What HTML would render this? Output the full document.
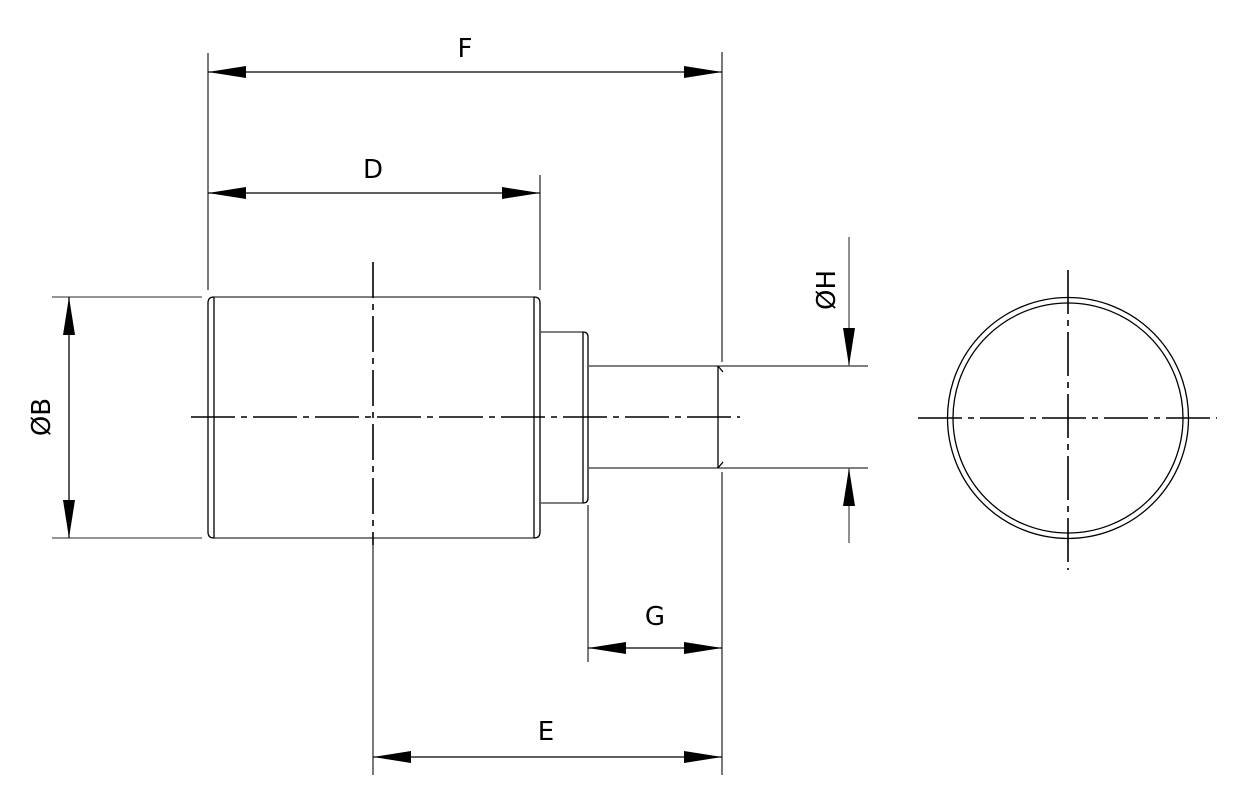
<!DOCTYPE html>
<html><head><meta charset="utf-8"><style>
html,body{margin:0;padding:0;background:#fff;}
svg{display:block;}
text{font-family:"DejaVu Sans","Liberation Sans",sans-serif;font-size:26px;fill:#000;}
</style></head><body>
<svg width="1234" height="792" viewBox="0 0 1234 792" xmlns="http://www.w3.org/2000/svg">
<defs>
<marker id="a" viewBox="0 0 38 12" refX="38" refY="6" markerWidth="38" markerHeight="12" markerUnits="userSpaceOnUse" orient="auto-start-reverse">
<path d="M38,6 L0,0 L0,12 Z" fill="#000"/>
</marker>
</defs>
<g stroke="#000" fill="none" stroke-width="1.3">
<path d="M214,297 L534,297 M214,538 L534,538" stroke="#555" stroke-width="1.6"/>
<path d="M214,297 L214,538 M534,297 L534,538"/>
<path d="M214,297 Q208,297 208,303 L208,532 Q208,538 214,538"/>
<path d="M534,297 Q540,297 540,303 L540,532 Q540,538 534,538"/>
<path d="M540,332 L583,332 M540,503 L583,503" stroke="#555" stroke-width="1.6"/>
<path d="M583,332 L583,503"/>
<path d="M583,332 Q588,332 588,337 L588,498 Q588,503 583,503"/>
<path d="M588,366 L868,366 M588,468 L868,468" stroke="#555" stroke-width="1.6"/>
<path d="M718,366 L718,468 M718,366 L723,372 M718,468 L723,462"/>
<path d="M191,417 L740,417" stroke-width="1.6" stroke-dasharray="44,6,6,6"/>
<path d="M373,262 L373,545" stroke-width="1.6" stroke-dasharray="36,6,6,6"/>
<path d="M208,53 L208,290 M540,175 L540,290 M722,52 L722,362 M722,472 L722,775 M588,505 L588,662 M373,545 L373,775" stroke="#333"/>
<path d="M52,297 L202,297 M52,538 L202,538" stroke="#555"/>
<path d="M208,72 L722,72" marker-start="url(#a)" marker-end="url(#a)"/>
<path d="M208,193 L540,193" marker-start="url(#a)" marker-end="url(#a)"/>
<path d="M69,297 L69,538" marker-start="url(#a)" marker-end="url(#a)"/>
<path d="M588,648 L722,648" marker-start="url(#a)" marker-end="url(#a)"/>
<path d="M373,757 L722,757" marker-start="url(#a)" marker-end="url(#a)"/>
<path d="M849,237 L849,366" marker-end="url(#a)" stroke="#555"/>
<path d="M849,543 L849,468" marker-end="url(#a)" stroke="#555"/>
<circle cx="1068" cy="418" r="120.5"/>
<circle cx="1068" cy="418" r="115"/>
<path d="M918,418 L1217,418" stroke-width="1.6" stroke-dasharray="44,6,6,6"/>
<path d="M1068,270 L1068,570" stroke-width="1.6" stroke-dasharray="44,6,6,6"/>
</g>
<text x="465" y="57" text-anchor="middle">F</text>
<text x="373" y="178" text-anchor="middle">D</text>
<text x="655" y="625" text-anchor="middle">G</text>
<text x="546" y="740" text-anchor="middle">E</text>
<text transform="translate(50,417) rotate(-90)" text-anchor="middle">ØB</text>
<text transform="translate(835,290) rotate(-90)" text-anchor="middle">ØH</text>
</svg>
</body></html>
